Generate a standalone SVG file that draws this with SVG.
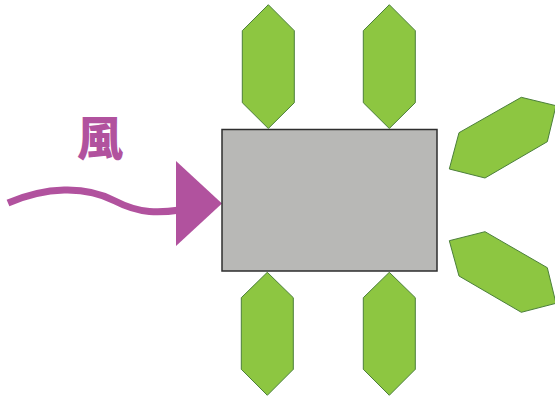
<svg xmlns="http://www.w3.org/2000/svg" width="555" height="401" viewBox="0 0 555 401">
  <style>
    .fin { fill: #8dc641; stroke: #4b7f3a; stroke-width: 1; stroke-linejoin: round; }
    .body { fill: #b8b8b6; stroke: #2e2e2e; stroke-width: 1.5; }
    .wind { fill: none; stroke: #b1529e; stroke-width: 7; }
    .wind-head { fill: #b1529e; }
    .label { font-family: "Noto Sans CJK JP", "Noto Sans CJK SC", sans-serif; font-weight: 900; font-size: 46px; fill: #b1529e; }
  </style>

  <!-- wind label -->
  <g id="wind-label">
    <text class="label" x="100" y="155" text-anchor="middle">風</text>
  </g>

  <!-- wind arrow -->
  <g id="connectors">
    <path class="wind" d="M8,203 C45,187 85,185 115,201 C140,214 160,213 180,210"/>
    <polygon class="wind-head" points="176,161 222,203.5 176,246"/>
  </g>

  <!-- central body -->
  <g id="body">
    <rect class="body" x="222" y="129.5" width="215" height="141.5"/>
  </g>

  <!-- top fins -->
  <g id="fin-top-left">
    <polygon class="fin" points="268.3,4.7 294.3,30.7 294.3,102.7 268.3,128.5 242.3,102.7 242.3,30.7"/>
  </g>
  <g id="fin-top-right">
    <polygon class="fin" points="389.3,4.7 415.3,30.7 415.3,102.7 389.3,128.5 363.3,102.7 363.3,30.7"/>
  </g>

  <!-- bottom fins -->
  <g id="fin-bottom-left">
    <polygon class="fin" points="267.3,272.3 293.3,297.7 293.3,369.3 267.3,395.3 241.3,369.3 241.3,297.7"/>
  </g>
  <g id="fin-bottom-right">
    <polygon class="fin" points="389.3,272.3 415.3,297.7 415.3,369.3 389.3,395.3 363.3,369.3 363.3,297.7"/>
  </g>

  <!-- side fins -->
  <g id="fin-side-upper">
    <polygon class="fin" points="521.3,97.3 556,105.7 547.3,141.7 485,178 449.3,169 459,132.7"/>
  </g>
  <g id="fin-side-lower">
    <polygon class="fin" points="449.3,240.7 485,231.7 547.3,267.7 556,303.3 521.3,312.3 459,276"/>
  </g>
</svg>
